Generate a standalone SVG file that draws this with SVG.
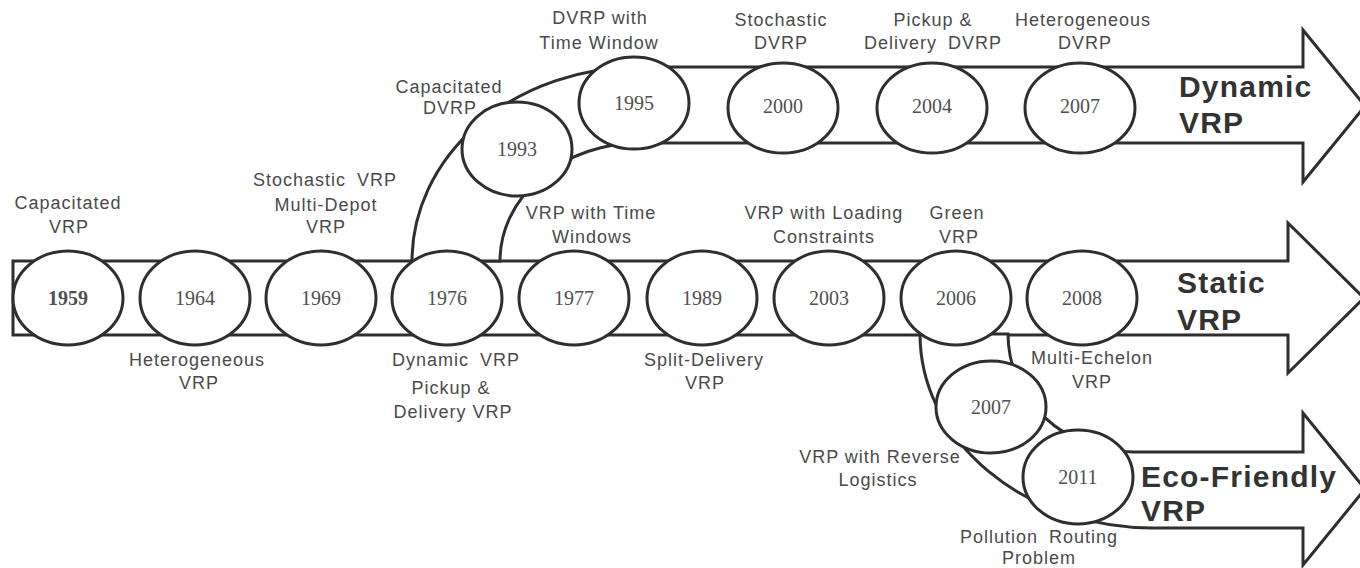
<svg xmlns="http://www.w3.org/2000/svg" width="1360" height="568" viewBox="0 0 1360 568">
<style>
.band{fill:#fff;stroke:#2e2e2e;stroke-width:3;stroke-linejoin:miter}
.node ellipse{fill:#fff;stroke:#2e2e2e;stroke-width:3}
.yr{font-family:"Liberation Serif",serif;font-size:20px;fill:#505050;text-anchor:middle}
.lbl{font-family:"Liberation Sans",Arial,sans-serif;font-size:18px;fill:#4a4a4a;text-anchor:middle;letter-spacing:1px}
.big{font-family:"Liberation Sans",Arial,sans-serif;font-size:30px;font-weight:bold;fill:#333;letter-spacing:1.2px}
</style>
<rect width="1360" height="568" fill="#fff"/>
<g id="connectors">
<path class="band" d="M13,261 L1288,261 L1288,223 L1364,298 L1288,373 L1288,335 L13,335 Z"/>
<path class="band" d="M412,261 A228,194 0 0 1 640,67 L1303,67 L1303,30 L1365,106 L1303,182 L1303,143 L640,143 A140,118 0 0 0 500,261 Z"/>
<path class="band" d="M920,334 A233,194 0 0 0 1153,528 L1303,528 L1303,565 L1365,489 L1303,413 L1303,452 L1133,452 A125,118 0 0 1 1008,334 Z"/>
</g>
<g id="n1959" class="node"><ellipse cx="68" cy="298" rx="55" ry="47"/><text class="yr" x="68" y="305" font-weight="bold" fill="#2a2a2a">1959</text></g>
<g id="n1964" class="node"><ellipse cx="195" cy="298" rx="55" ry="47"/><text class="yr" x="195" y="305">1964</text></g>
<g id="n1969" class="node"><ellipse cx="321" cy="298" rx="55" ry="47"/><text class="yr" x="321" y="305">1969</text></g>
<g id="n1976" class="node"><ellipse cx="447" cy="298" rx="55" ry="47"/><text class="yr" x="447" y="305">1976</text></g>
<g id="n1977" class="node"><ellipse cx="574" cy="298" rx="55" ry="47"/><text class="yr" x="574" y="305">1977</text></g>
<g id="n1989" class="node"><ellipse cx="702" cy="298" rx="55" ry="47"/><text class="yr" x="702" y="305">1989</text></g>
<g id="n2003" class="node"><ellipse cx="829" cy="298" rx="55" ry="47"/><text class="yr" x="829" y="305">2003</text></g>
<g id="n2006" class="node"><ellipse cx="956" cy="298" rx="55" ry="47"/><text class="yr" x="956" y="305">2006</text></g>
<g id="n2008" class="node"><ellipse cx="1082" cy="298" rx="55" ry="47"/><text class="yr" x="1082" y="305">2008</text></g>
<g id="n1993" class="node"><ellipse cx="517" cy="149" rx="55" ry="47"/><text class="yr" x="517" y="156">1993</text></g>
<g id="n1995" class="node"><ellipse cx="634" cy="103" rx="55" ry="46"/><text class="yr" x="634" y="110">1995</text></g>
<g id="n2000" class="node"><ellipse cx="783" cy="108" rx="55" ry="45"/><text class="yr" x="783" y="113">2000</text></g>
<g id="n2004" class="node"><ellipse cx="932" cy="108" rx="55" ry="45"/><text class="yr" x="932" y="113">2004</text></g>
<g id="n2007d" class="node"><ellipse cx="1080" cy="108" rx="55" ry="45"/><text class="yr" x="1080" y="113">2007</text></g>
<g id="n2007e" class="node"><ellipse cx="991" cy="407" rx="55" ry="46"/><text class="yr" x="991" y="414">2007</text></g>
<g id="n2011" class="node"><ellipse cx="1078" cy="477" rx="55" ry="47"/><text class="yr" x="1078" y="484">2011</text></g>
<g id="labels">
<text class="lbl" x="68" y="209">Capacitated</text><text class="lbl" x="69" y="233">VRP</text>
<text class="lbl" x="325" y="186" word-spacing="5">Stochastic VRP</text><text class="lbl" x="326" y="211">Multi-Depot</text><text class="lbl" x="326" y="233">VRP</text>
<text class="lbl" x="197" y="366">Heterogeneous</text><text class="lbl" x="199" y="389">VRP</text>
<text class="lbl" x="456" y="366" word-spacing="5">Dynamic VRP</text><text class="lbl" x="451" y="394">Pickup &amp;</text><text class="lbl" x="453" y="418">Delivery VRP</text>
<text class="lbl" x="591" y="219">VRP with Time</text><text class="lbl" x="592" y="243">Windows</text>
<text class="lbl" x="449" y="93">Capacitated</text><text class="lbl" x="450" y="114">DVRP</text>
<text class="lbl" x="600" y="24">DVRP with</text><text class="lbl" x="599" y="49">Time Window</text>
<text class="lbl" x="781" y="26">Stochastic</text><text class="lbl" x="781" y="49">DVRP</text>
<text class="lbl" x="933" y="26">Pickup &amp;</text><text class="lbl" x="933" y="49" word-spacing="5">Delivery DVRP</text>
<text class="lbl" x="1083" y="26">Heterogeneous</text><text class="lbl" x="1085" y="49">DVRP</text>
<text class="lbl" x="704" y="366">Split-Delivery</text><text class="lbl" x="705" y="389">VRP</text>
<text class="lbl" x="824" y="219">VRP with Loading</text><text class="lbl" x="824" y="243">Constraints</text>
<text class="lbl" x="957" y="219">Green</text><text class="lbl" x="959" y="243">VRP</text>
<text class="lbl" x="1092" y="364">Multi-Echelon</text><text class="lbl" x="1092" y="388">VRP</text>
<text class="lbl" x="880" y="463">VRP with Reverse</text><text class="lbl" x="878" y="486">Logistics</text>
<text class="lbl" x="1039" y="543" word-spacing="5">Pollution Routing</text><text class="lbl" x="1039" y="564">Problem</text>
<text class="big" x="1179" y="97">Dynamic</text><text class="big" x="1179" y="133">VRP</text>
<text class="big" x="1177" y="293">Static</text><text class="big" x="1177" y="330">VRP</text>
<text class="big" x="1141" y="487">Eco-Friendly</text><text class="big" x="1141" y="521">VRP</text>
</g>
</svg>
